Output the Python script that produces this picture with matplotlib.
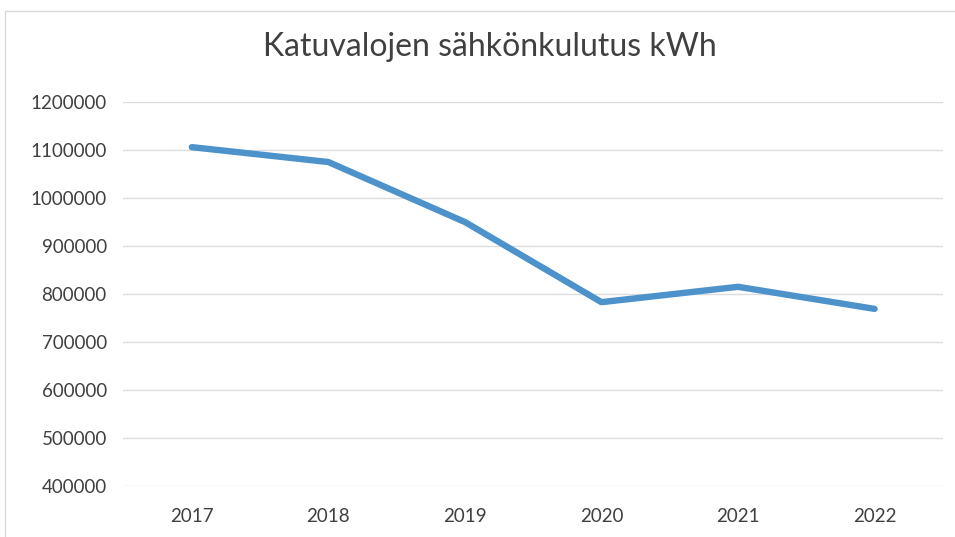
import matplotlib.pyplot as plt
from matplotlib.patches import Rectangle

# Street light electricity use per year
years = ["2017", "2018", "2019", "2020", "2021", "2022"]
kwh = [1106000, 1075000, 950000, 783000, 815000, 769000]
y_ticks = [400000, 500000, 600000, 700000, 800000, 900000, 1000000, 1100000, 1200000]

plt.rcParams['font.family'] = ['Lato', 'DejaVu Sans']

fig = plt.figure(figsize=(9.55, 5.37), dpi=100)
ax = fig.add_axes([0.1293, 0.095, 0.858, 0.715])

x = list(range(len(years)))
ax.plot(x, kwh, color='#4d92cb', linewidth=4.6, solid_capstyle='round',
        solid_joinstyle='round', zorder=3)

ax.set_xlim(-0.5, len(years) - 0.5)
ax.set_ylim(y_ticks[0], y_ticks[-1])
ax.set_xticks(x)
ax.set_xticklabels(years)
ax.set_yticks(y_ticks)
ax.set_yticklabels([str(v) for v in y_ticks])
ax.tick_params(length=0, labelsize=13.5, colors='#404040')
ax.tick_params(axis='x', pad=16)
ax.tick_params(axis='y', pad=12)
ax.grid(axis='y', color='#dcdcdc', linewidth=1)
ax.set_axisbelow(True)
for s in ax.spines.values():
    s.set_visible(False)

fig.text(0.513, 0.912, "Katuvalojen sähkönkulutus kWh", ha='center', va='center',
         fontsize=23, color='#404040')

# chart area frame
fig.patches.append(Rectangle((0.005, -0.05), 1.1, 1.03, transform=fig.transFigure,
                             fill=False, edgecolor='#d8d8d8', linewidth=1))

fig.savefig("out.png", dpi=100)
